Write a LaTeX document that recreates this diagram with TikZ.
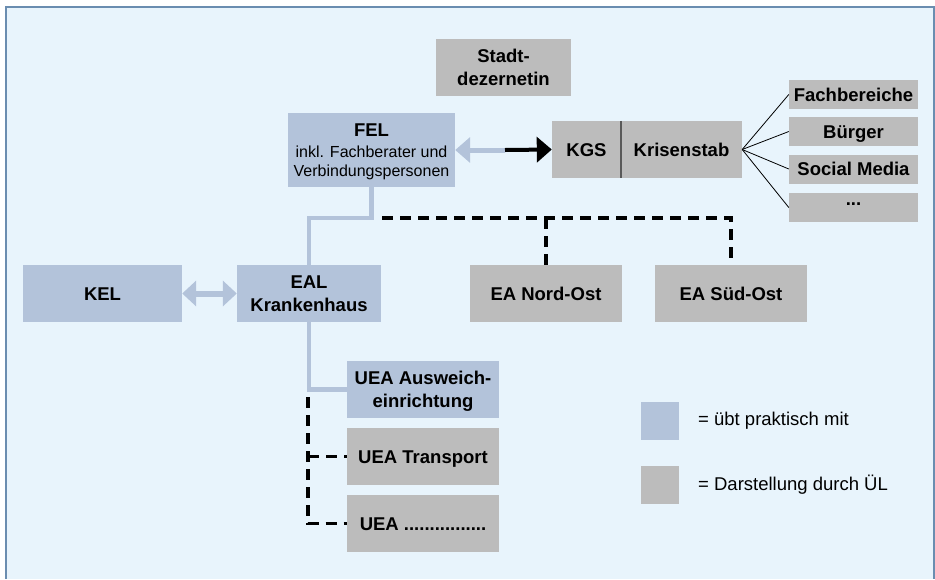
\documentclass[tikz,border=0pt]{standalone}
\usepackage{fontspec}
\setmainfont{Liberation Sans}
\usetikzlibrary{arrows.meta}
\definecolor{bg}{HTML}{E8F4FC}
\definecolor{framec}{HTML}{6A8DB0}
\definecolor{bluebox}{HTML}{B3C3DA}
\definecolor{graybox}{HTML}{BCBCBC}
\begin{document}
\begin{tikzpicture}[x=1pt,y=-1pt,
  bx/.style={inner sep=0pt, align=center, text=black, text depth=0pt, font=\fontsize{18.5}{23}\selectfont\bfseries},
  oneline/.style={text height=13.3pt},
  bluenode/.style={bx, fill=bluebox},
  graynode/.style={bx, fill=graybox},
  bconn/.style={draw=bluebox, line width=4.5pt},
  dsh/.style={draw=black, line width=3.5pt, dash pattern=on 11pt off 7pt},
  thinline/.style={draw=black, line width=0.8pt},
  legtext/.style={anchor=west, inner sep=0pt, font=\fontsize{18.5}{22}\selectfont}
]
\useasboundingbox (0,0) rectangle (935,579);
\fill[bg] (5,6) rectangle (934,579);
\draw[framec, line width=2pt] (5.5,579) -- (5.5,6.5) -- (933.5,6.5) -- (933.5,579);

% nodes
\node[graynode, minimum width=135pt, minimum height=57pt] (stadt) at (503.5,67.5) {Stadt-\\dezernetin};
\node[bluenode, minimum width=167pt, minimum height=74pt, font=\fontsize{16}{19}\selectfont] (FEL) at (371.5,150)
  {{\fontsize{18.5}{19}\selectfont\bfseries FEL}\\[2pt]inkl. Fachberater und\\Verbindungspersonen};
\node[graynode, oneline, minimum width=69pt, minimum height=57pt] (KGS) at (586.5,149.5) {KGS};
\node[graynode, oneline, minimum width=121pt, minimum height=57pt] (kris) at (681.5,149.5) {Krisenstab};
\draw[black!65, line width=1.5pt] (KGS.north east) -- (KGS.south east);

\node[graynode, oneline, minimum width=129pt, minimum height=29pt] (r1) at (853.5,94.5) {Fachbereiche};
\node[graynode, oneline, minimum width=129pt, minimum height=29pt] (r2) at (853.5,131.5) {Bürger};
\node[graynode, oneline, minimum width=129pt, minimum height=29pt] (r3) at (853.5,169) {Social Media};
\node[graynode, oneline, minimum width=129pt, minimum height=29pt] (r4) at (853.5,207.5) {\raisebox{8.5pt}{...}};

\node[bluenode, oneline, minimum width=159pt, minimum height=57pt] (KEL) at (102.5,293.5) {KEL};
\node[bluenode, minimum width=144pt, minimum height=57pt] (EAL) at (309,293.5) {EAL\\Krankenhaus};
\node[graynode, oneline, minimum width=152pt, minimum height=57pt] (EANO) at (546,293.5) {EA Nord-Ost};
\node[graynode, oneline, minimum width=152pt, minimum height=57pt] (EASO) at (731,293.5) {EA Süd-Ost};

\node[bluenode, minimum width=152pt, minimum height=57pt] (UEAa) at (423,389.5) {UEA Ausweich-\\einrichtung};
\node[graynode, oneline, minimum width=152pt, minimum height=57pt] (UEAt) at (423,456.5) {UEA Transport};
\node[graynode, oneline, minimum width=152pt, minimum height=57pt] (UEAd) at (423,523.5) {UEA ................};

% legend
\node[fill=bluebox, minimum width=38pt, minimum height=38pt, inner sep=0pt] (legb) at (660,421) {};
\node[fill=graybox, minimum width=38pt, minimum height=38pt, inner sep=0pt] (legg) at (660,485) {};
\node[legtext] (legbt) at (698,421) {= übt praktisch mit};
\node[legtext] (leggt) at (698,485) {= Darstellung durch ÜL};

% connectors
\coordinate (mid) at (505,150);
\draw[bluebox, line width=5pt, -{Triangle[length=15pt,width=25pt]}] (mid) -- (FEL.east);
\draw[black, line width=4pt, -{Triangle[length=15pt,width=25pt]}] (mid) -- (KGS.west);
\draw[bluebox, line width=6pt, {Triangle[length=14pt,width=25pt]}-{Triangle[length=14pt,width=25pt]}] (KEL.east) -- (EAL.west);

\coordinate (h1) at (0,218);
\draw[bconn] (FEL.south) -- (FEL.south |- h1) -| (EAL.north);
\draw[bconn] (EAL.south) |- (UEAa.west);

\coordinate (d1) at (382,218);
\draw[dsh] (d1) -| (EASO.north);
\draw[dsh] (EANO.north |- d1) -- (EANO.north);

\coordinate (d2) at (308,397);
\draw[dsh] (d2) |- (UEAd.west);
\draw[dsh] (d2 |- UEAt.west) -- (UEAt.west);

\draw[thinline] (kris.east) -- (r1.west);
\draw[thinline] (kris.east) -- (r2.west);
\draw[thinline] (kris.east) -- (r3.west);
\draw[thinline] (kris.east) -- (r4.west);
\end{tikzpicture}
\end{document}
